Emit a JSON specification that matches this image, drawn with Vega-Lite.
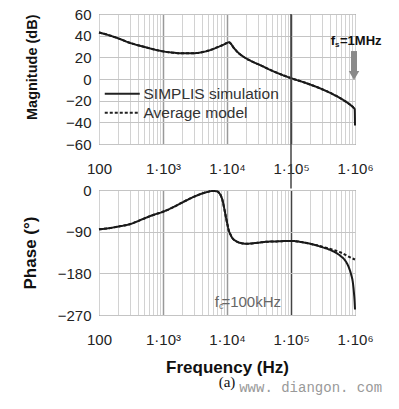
{
  "$schema": "https://vega.github.io/schema/vega-lite/v6.json",
  "padding": {"left": 20, "top": 6, "right": 5, "bottom": 5},
  "background": "white",
  "spacing": -9,
  "title": {"text": "www. diangon. com", "orient": "bottom", "anchor": "end", "font": "Liberation Mono", "fontSize": 14, "fontWeight": "normal", "color": "#999", "offset": -10},
  "config": {
    "view": {"stroke": "#555", "strokeWidth": 1},
    "font": "Liberation Sans",
    "axis": {"labelFont": "Liberation Sans", "labelFontSize": 15, "labelColor": "#222", "titleFont": "Liberation Sans", "titleFontSize": 17, "titleFontWeight": "bold", "titleColor": "#111", "domain": false, "ticks": false, "labelOverlap": false},
    "axisQuantitative": {"labelOverlap": false},
    "axisY": {"labelPadding": 8, "gridColor": "#c4c4c4", "gridWidth": 1, "titleX": -60, "labelOverlap": false},
    "axisX": {"labelPadding": 17, "labelOverlap": false, "labelFlush": false}
  },
  "datasets": {
    "mag": [
      {"f": 100, "db": 43, "s": "SIMPLIS simulation"},
      {"f": 150, "db": 40, "s": "SIMPLIS simulation"},
      {"f": 200, "db": 37.5, "s": "SIMPLIS simulation"},
      {"f": 300, "db": 33.5, "s": "SIMPLIS simulation"},
      {"f": 500, "db": 29.8, "s": "SIMPLIS simulation"},
      {"f": 700, "db": 27.5, "s": "SIMPLIS simulation"},
      {"f": 1000, "db": 25.5, "s": "SIMPLIS simulation"},
      {"f": 1500, "db": 24.2, "s": "SIMPLIS simulation"},
      {"f": 2000, "db": 23.7, "s": "SIMPLIS simulation"},
      {"f": 3000, "db": 23.8, "s": "SIMPLIS simulation"},
      {"f": 4000, "db": 24.6, "s": "SIMPLIS simulation"},
      {"f": 5000, "db": 26, "s": "SIMPLIS simulation"},
      {"f": 6000, "db": 27.6, "s": "SIMPLIS simulation"},
      {"f": 7000, "db": 29.2, "s": "SIMPLIS simulation"},
      {"f": 8000, "db": 30.6, "s": "SIMPLIS simulation"},
      {"f": 9000, "db": 32, "s": "SIMPLIS simulation"},
      {"f": 10000, "db": 33.3, "s": "SIMPLIS simulation"},
      {"f": 10700, "db": 34, "s": "SIMPLIS simulation"},
      {"f": 11500, "db": 32.5, "s": "SIMPLIS simulation"},
      {"f": 12500, "db": 29.5, "s": "SIMPLIS simulation"},
      {"f": 14000, "db": 26, "s": "SIMPLIS simulation"},
      {"f": 16000, "db": 22.8, "s": "SIMPLIS simulation"},
      {"f": 20000, "db": 19, "s": "SIMPLIS simulation"},
      {"f": 25000, "db": 16, "s": "SIMPLIS simulation"},
      {"f": 33000, "db": 12.8, "s": "SIMPLIS simulation"},
      {"f": 50000, "db": 7.8, "s": "SIMPLIS simulation"},
      {"f": 70000, "db": 4.2, "s": "SIMPLIS simulation"},
      {"f": 100000, "db": 0.8, "s": "SIMPLIS simulation"},
      {"f": 167000, "db": -3.5, "s": "SIMPLIS simulation"},
      {"f": 300000, "db": -9.2, "s": "SIMPLIS simulation"},
      {"f": 500000, "db": -15.4, "s": "SIMPLIS simulation"},
      {"f": 700000, "db": -20.5, "s": "SIMPLIS simulation"},
      {"f": 850000, "db": -24, "s": "SIMPLIS simulation"},
      {"f": 950000, "db": -26.5, "s": "SIMPLIS simulation"},
      {"f": 990000, "db": -28, "s": "SIMPLIS simulation"},
      {"f": 1000000, "db": -43, "s": "SIMPLIS simulation"},
      {"f": 100, "db": 43, "s": "Average model"},
      {"f": 150, "db": 40, "s": "Average model"},
      {"f": 200, "db": 37.5, "s": "Average model"},
      {"f": 300, "db": 33.5, "s": "Average model"},
      {"f": 500, "db": 29.8, "s": "Average model"},
      {"f": 700, "db": 27.5, "s": "Average model"},
      {"f": 1000, "db": 25.5, "s": "Average model"},
      {"f": 1500, "db": 24.2, "s": "Average model"},
      {"f": 2000, "db": 23.7, "s": "Average model"},
      {"f": 3000, "db": 23.8, "s": "Average model"},
      {"f": 4000, "db": 24.6, "s": "Average model"},
      {"f": 5000, "db": 26, "s": "Average model"},
      {"f": 6000, "db": 27.6, "s": "Average model"},
      {"f": 7000, "db": 29.2, "s": "Average model"},
      {"f": 8000, "db": 30.6, "s": "Average model"},
      {"f": 9000, "db": 32, "s": "Average model"},
      {"f": 10000, "db": 33.3, "s": "Average model"},
      {"f": 10700, "db": 34, "s": "Average model"},
      {"f": 11500, "db": 32.5, "s": "Average model"},
      {"f": 12500, "db": 29.5, "s": "Average model"},
      {"f": 14000, "db": 26, "s": "Average model"},
      {"f": 16000, "db": 22.8, "s": "Average model"},
      {"f": 20000, "db": 19, "s": "Average model"},
      {"f": 25000, "db": 16, "s": "Average model"},
      {"f": 33000, "db": 12.8, "s": "Average model"},
      {"f": 50000, "db": 7.8, "s": "Average model"},
      {"f": 70000, "db": 4.2, "s": "Average model"},
      {"f": 100000, "db": 0.8, "s": "Average model"},
      {"f": 167000, "db": -3.5, "s": "Average model"},
      {"f": 300000, "db": -9.2, "s": "Average model"},
      {"f": 500000, "db": -15.4, "s": "Average model"},
      {"f": 700000, "db": -20.5, "s": "Average model"},
      {"f": 850000, "db": -24, "s": "Average model"},
      {"f": 950000, "db": -26.5, "s": "Average model"},
      {"f": 1000000, "db": -27.5, "s": "Average model"}
    ],
    "phase": [
      {"f": 100, "deg": -85, "s": "SIMPLIS simulation"},
      {"f": 150, "deg": -82, "s": "SIMPLIS simulation"},
      {"f": 200, "deg": -79, "s": "SIMPLIS simulation"},
      {"f": 300, "deg": -74, "s": "SIMPLIS simulation"},
      {"f": 500, "deg": -62, "s": "SIMPLIS simulation"},
      {"f": 700, "deg": -54, "s": "SIMPLIS simulation"},
      {"f": 1000, "deg": -47, "s": "SIMPLIS simulation"},
      {"f": 1500, "deg": -36, "s": "SIMPLIS simulation"},
      {"f": 2000, "deg": -27, "s": "SIMPLIS simulation"},
      {"f": 3000, "deg": -15, "s": "SIMPLIS simulation"},
      {"f": 4000, "deg": -8, "s": "SIMPLIS simulation"},
      {"f": 5000, "deg": -4, "s": "SIMPLIS simulation"},
      {"f": 6000, "deg": -2, "s": "SIMPLIS simulation"},
      {"f": 7000, "deg": -3, "s": "SIMPLIS simulation"},
      {"f": 7500, "deg": -6, "s": "SIMPLIS simulation"},
      {"f": 8000, "deg": -12, "s": "SIMPLIS simulation"},
      {"f": 8500, "deg": -22, "s": "SIMPLIS simulation"},
      {"f": 9000, "deg": -38, "s": "SIMPLIS simulation"},
      {"f": 9500, "deg": -55, "s": "SIMPLIS simulation"},
      {"f": 10000, "deg": -70, "s": "SIMPLIS simulation"},
      {"f": 10700, "deg": -88, "s": "SIMPLIS simulation"},
      {"f": 11500, "deg": -98, "s": "SIMPLIS simulation"},
      {"f": 12000, "deg": -103, "s": "SIMPLIS simulation"},
      {"f": 13000, "deg": -108, "s": "SIMPLIS simulation"},
      {"f": 14500, "deg": -112, "s": "SIMPLIS simulation"},
      {"f": 17000, "deg": -115, "s": "SIMPLIS simulation"},
      {"f": 20000, "deg": -116, "s": "SIMPLIS simulation"},
      {"f": 30000, "deg": -114, "s": "SIMPLIS simulation"},
      {"f": 40000, "deg": -112, "s": "SIMPLIS simulation"},
      {"f": 60000, "deg": -111, "s": "SIMPLIS simulation"},
      {"f": 100000, "deg": -110, "s": "SIMPLIS simulation"},
      {"f": 167000, "deg": -114, "s": "SIMPLIS simulation"},
      {"f": 300000, "deg": -123, "s": "SIMPLIS simulation"},
      {"f": 450000, "deg": -132, "s": "SIMPLIS simulation"},
      {"f": 600000, "deg": -143, "s": "SIMPLIS simulation"},
      {"f": 700000, "deg": -152, "s": "SIMPLIS simulation"},
      {"f": 800000, "deg": -167, "s": "SIMPLIS simulation"},
      {"f": 880000, "deg": -185, "s": "SIMPLIS simulation"},
      {"f": 920000, "deg": -197, "s": "SIMPLIS simulation"},
      {"f": 960000, "deg": -220, "s": "SIMPLIS simulation"},
      {"f": 985000, "deg": -240, "s": "SIMPLIS simulation"},
      {"f": 1000000, "deg": -258, "s": "SIMPLIS simulation"},
      {"f": 100, "deg": -85, "s": "Average model"},
      {"f": 150, "deg": -82, "s": "Average model"},
      {"f": 200, "deg": -79, "s": "Average model"},
      {"f": 300, "deg": -74, "s": "Average model"},
      {"f": 500, "deg": -62, "s": "Average model"},
      {"f": 700, "deg": -54, "s": "Average model"},
      {"f": 1000, "deg": -47, "s": "Average model"},
      {"f": 1500, "deg": -36, "s": "Average model"},
      {"f": 2000, "deg": -27, "s": "Average model"},
      {"f": 3000, "deg": -15, "s": "Average model"},
      {"f": 4000, "deg": -8, "s": "Average model"},
      {"f": 5000, "deg": -4, "s": "Average model"},
      {"f": 6000, "deg": -2, "s": "Average model"},
      {"f": 7000, "deg": -3, "s": "Average model"},
      {"f": 7500, "deg": -6, "s": "Average model"},
      {"f": 8000, "deg": -12, "s": "Average model"},
      {"f": 8500, "deg": -22, "s": "Average model"},
      {"f": 9000, "deg": -38, "s": "Average model"},
      {"f": 9500, "deg": -55, "s": "Average model"},
      {"f": 10000, "deg": -70, "s": "Average model"},
      {"f": 10700, "deg": -88, "s": "Average model"},
      {"f": 11500, "deg": -98, "s": "Average model"},
      {"f": 12000, "deg": -103, "s": "Average model"},
      {"f": 13000, "deg": -108, "s": "Average model"},
      {"f": 14500, "deg": -112, "s": "Average model"},
      {"f": 17000, "deg": -115, "s": "Average model"},
      {"f": 20000, "deg": -116, "s": "Average model"},
      {"f": 30000, "deg": -114, "s": "Average model"},
      {"f": 40000, "deg": -112, "s": "Average model"},
      {"f": 60000, "deg": -111, "s": "Average model"},
      {"f": 100000, "deg": -110, "s": "Average model"},
      {"f": 167000, "deg": -114, "s": "Average model"},
      {"f": 300000, "deg": -122, "s": "Average model"},
      {"f": 450000, "deg": -129, "s": "Average model"},
      {"f": 600000, "deg": -135, "s": "Average model"},
      {"f": 800000, "deg": -144, "s": "Average model"},
      {"f": 920000, "deg": -148, "s": "Average model"},
      {"f": 1000000, "deg": -150, "s": "Average model"}
    ]
  },
  "vconcat": [
    {
      "width": 256,
      "height": 130,
      "encoding": {
        "x": {"field": "f", "type": "quantitative",
          "scale": {"type": "log", "domain": [100, 1000000], "nice": false},
          "axis": {
            "title": null,
            "values": [100,200,300,400,500,600,700,800,900,1000,2000,3000,4000,5000,6000,7000,8000,9000,10000,20000,30000,40000,50000,60000,70000,80000,90000,100000,200000,300000,400000,500000,600000,700000,800000,900000,1000000],
            "labelExpr": "datum.value==100?'100':datum.value==1000?'1·10³':datum.value==10000?'1·10⁴':datum.value==100000?'1·10⁵':datum.value==1000000?'1·10⁶':''",
            "gridColor": {"condition": [{"test": "datum.value==100000", "value": "#444"}, {"test": "datum.value==1000||datum.value==10000", "value": "#999"}], "value": "#d2d2d2"},
            "gridWidth": {"condition": [{"test": "datum.value==100000", "value": 1.5}, {"test": "datum.value==1000||datum.value==10000", "value": 1.5}], "value": 1}
          }},
        "y": {"field": "db", "type": "quantitative",
          "scale": {"domain": [-60, 60], "nice": false, "zero": false},
          "axis": {"values": [-60,-40,-20,0,20,40,60], "labelOverlap": false, "title": "Magnitude (dB)", "titleFontSize": 14.5, "titleAnchor": "end"}}
      },
      "layer": [
        {
          "data": {"name": "mag"},
          "mark": {"type": "line", "strokeWidth": 2, "color": "#1a1a1a", "interpolate": "monotone"},
          "encoding": {
            "strokeDash": {"field": "s", "type": "nominal",
              "scale": {"domain": ["SIMPLIS simulation", "Average model"], "range": [[1, 0], [3, 2]]},
              "legend": {"title": null, "orient": "none", "legendX": 15.5, "legendY": 72, "padding": 0, "rowPadding": 2,
                "symbolType": "M-3.5,0H3.5", "symbolSize": 100, "symbolStrokeWidth": 2, "symbolStrokeColor": "#222",
                "labelFont": "Liberation Sans", "labelFontSize": 15.5, "labelColor": "#333", "labelOffset": 13.5}}
          }
        },
        {
          "data": {"values": [{"f": 100000, "db": 60, "db2": -101}]},
          "mark": {"type": "rule", "strokeWidth": 1.5, "color": "#444", "clip": false},
          "encoding": {"y2": {"field": "db2"}}
        },
        {
          "data": {"values": [{"f": 965000, "db": 25.8, "db2": 6}]},
          "mark": {"type": "rule", "strokeWidth": 6, "color": "#8a8a8a"},
          "encoding": {"y2": {"field": "db2"}}
        },
        {
          "data": {"values": [{"f": 965000, "db": 3.2}]},
          "mark": {"type": "point", "shape": "triangle-down", "filled": true, "size": 110, "color": "#8a8a8a", "opacity": 1},
          "encoding": {}
        },
        {
          "data": {"values": [{"f": 1000000, "db": 35, "t": "f"}]},
          "mark": {"type": "text", "align": "right", "baseline": "middle", "dx": -20, "font": "Liberation Sans", "fontWeight": "bold", "fontSize": 13, "color": "#111"},
          "encoding": {"text": {"field": "t"}}
        },
        {
          "data": {"values": [{"f": 1000000, "db": 35, "t": "s"}]},
          "mark": {"type": "text", "align": "left", "baseline": "middle", "dx": -20, "dy": 4, "font": "Liberation Sans", "fontWeight": "bold", "fontSize": 8, "color": "#111"},
          "encoding": {"text": {"field": "t"}}
        },
        {
          "data": {"values": [{"f": 1000000, "db": 35, "t": "=1MHz"}]},
          "mark": {"type": "text", "align": "left", "baseline": "middle", "dx": -15, "font": "Liberation Sans", "fontWeight": "bold", "fontSize": 13, "color": "#111"},
          "encoding": {"text": {"field": "t"}}
        }
      ]
    },
    {
      "width": 256,
      "height": 125,
      "title": {"text": "(a)", "orient": "bottom", "anchor": "middle", "frame": "group", "font": "Liberation Serif", "fontSize": 15, "fontWeight": "normal", "color": "#111", "offset": 0},
      "layer": [
        {
          "data": {"name": "phase"},
          "mark": {"type": "line", "strokeWidth": 2, "color": "#1a1a1a", "interpolate": "monotone"},
          "encoding": {
            "x": {"field": "f", "type": "quantitative",
              "scale": {"type": "log", "domain": [100, 1000000], "nice": false},
              "axis": {
                "title": "Frequency (Hz)",
                "titlePadding": 12,
                "values": [100,200,300,400,500,600,700,800,900,1000,2000,3000,4000,5000,6000,7000,8000,9000,10000,20000,30000,40000,50000,60000,70000,80000,90000,100000,200000,300000,400000,500000,600000,700000,800000,900000,1000000],
                "labelExpr": "datum.value==100?'100':datum.value==1000?'1·10³':datum.value==10000?'1·10⁴':datum.value==100000?'1·10⁵':datum.value==1000000?'1·10⁶':''",
                "gridColor": {"condition": [{"test": "datum.value==100000", "value": "#444"}, {"test": "datum.value==1000||datum.value==10000", "value": "#999"}], "value": "#d2d2d2"},
                "gridWidth": {"condition": [{"test": "datum.value==100000", "value": 1.5}, {"test": "datum.value==1000||datum.value==10000", "value": 1.5}], "value": 1}
              }},
            "y": {"field": "deg", "type": "quantitative",
              "scale": {"domain": [-270, 0], "nice": false, "zero": false},
              "axis": {"values": [-270, -180, -90, 0], "labelOverlap": false, "title": "Phase (°)"}},
            "strokeDash": {"field": "s", "type": "nominal",
              "scale": {"domain": ["SIMPLIS simulation", "Average model"], "range": [[1, 0], [3, 2]]},
              "legend": null}
          }
        },
        {
          "data": {"values": [{"f": 100000, "v": -241, "t": "f"}]},
          "mark": {"type": "text", "align": "right", "baseline": "middle", "dx": -72, "font": "Liberation Sans", "fontSize": 15, "color": "#666"},
          "encoding": {"x": {"field": "f", "type": "quantitative"}, "y": {"field": "v", "type": "quantitative"}, "text": {"field": "t"}}
        },
        {
          "data": {"values": [{"f": 100000, "v": -241, "t": "c"}]},
          "mark": {"type": "text", "align": "right", "baseline": "middle", "dx": -67.5, "dy": 4, "font": "Liberation Sans", "fontSize": 9, "color": "#666"},
          "encoding": {"x": {"field": "f", "type": "quantitative"}, "y": {"field": "v", "type": "quantitative"}, "text": {"field": "t"}}
        },
        {
          "data": {"values": [{"f": 100000, "v": -241, "t": "=100kHz"}]},
          "mark": {"type": "text", "align": "right", "baseline": "middle", "dx": -10, "font": "Liberation Sans", "fontSize": 15, "color": "#666"},
          "encoding": {"x": {"field": "f", "type": "quantitative"}, "y": {"field": "v", "type": "quantitative"}, "text": {"field": "t"}}
        }
      ]
    }
  ],
  "resolve": {"scale": {"strokeDash": "independent", "x": "independent", "y": "independent"}, "legend": {"strokeDash": "independent"}}
}
